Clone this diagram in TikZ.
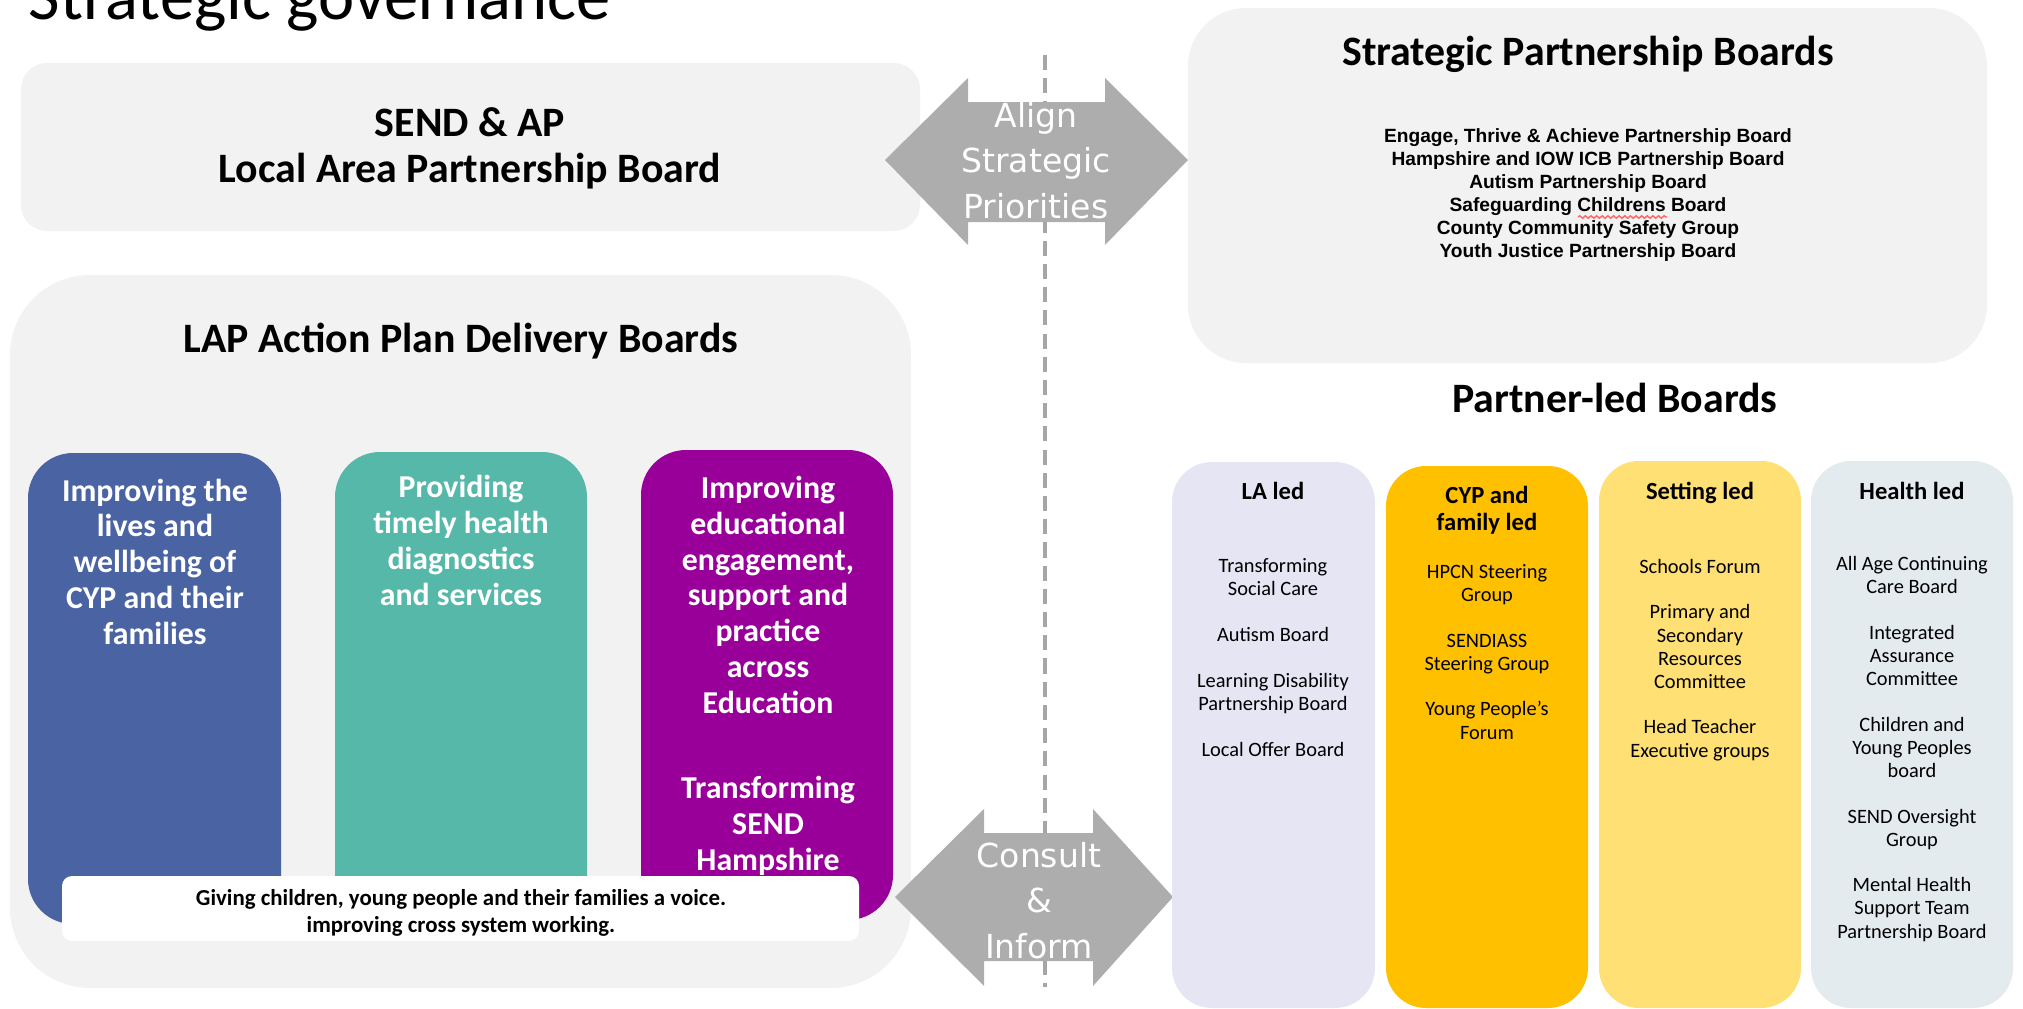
\documentclass[tikz,border=0pt]{standalone}
\usepackage{fontspec}
\setmainfont{Carlito}
\newfontfamily\dejavu{DejaVu Sans}
\newfontfamily\arialish{Liberation Sans}
\usepackage{xcolor}
\usetikzlibrary{positioning,calc,decorations.pathmorphing}

\definecolor{panelgrey}{HTML}{F2F2F2}
\definecolor{arrowgrey}{HTML}{ADADAD}
\definecolor{dashgrey}{HTML}{A6A6A6}
\definecolor{pillarblue}{HTML}{4A63A2}
\definecolor{pillarteal}{HTML}{55B8A8}
\definecolor{pillarpurple}{HTML}{990099}
\definecolor{laled}{HTML}{E6E5F4}
\definecolor{cypled}{HTML}{FFC000}
\definecolor{settingled}{HTML}{FFE074}
\definecolor{healthled}{HTML}{E4EBEE}

\newcommand{\headfont}{\fontsize{11.9}{12.8}\selectfont\bfseries}
\newcommand{\pillarfont}{\fontsize{9.05}{10.15}\selectfont\bfseries}
\newcommand{\itemfont}{\fontsize{5.8}{6.55}\selectfont}
\newcommand{\ledfont}{\fontsize{7}{7.4}\selectfont\bfseries}
\newcommand{\boardlistfont}{\arialish\fontsize{5.45}{6.5}\selectfont\bfseries}
\newcommand{\movefont}{\dejavu\fontsize{9.4}{12.8}\selectfont}
\newcommand{\voicefont}{\fontsize{6.5}{7.4}\selectfont\bfseries}

\begin{document}
\begin{tikzpicture}[x=0.01cm, y=-0.01cm,
    panel/.style={fill=panelgrey},
    txt/.style={inner sep=0pt, align=center, anchor=base},
    pillartext/.style={txt, text=white, font=\pillarfont},
    ledtitle/.style={txt, font=\ledfont},
    leditems/.style={txt, font=\itemfont},
    movetext/.style={txt, text=white, font=\movefont}]
    \clip (0,0) rectangle (2023,1009);

    % Title
    \node[anchor=base west, inner sep=0pt, font=\fontsize{19.5}{23}\selectfont] (title) at (28,20) {Strategic governance};

    % Local area partnership board (multi-line nodes sit on their last line)
    \fill[panel, rounded corners=0.26cm] (21,63) rectangle (920,231);
    \node[txt, font=\headfont] (lapboard) at (470,182) {SEND \& AP\\Local Area Partnership Board};

    % Delivery boards
    \fill[panel, rounded corners=0.8cm] (10,275) rectangle (911,988);
    \node[txt, font=\headfont] (delivery) at (461,352) {LAP Action Plan Delivery Boards};

    \fill[pillarblue, rounded corners=0.45cm] (28,453) rectangle (281,924);
    \fill[pillarteal, rounded corners=0.45cm] (335,452) rectangle (587,924);
    \fill[pillarpurple, rounded corners=0.45cm] (641,450) rectangle (893,920);
    \node[pillartext] (lives) at (155,644) {Improving the\\lives and\\wellbeing of\\CYP and their\\families};
    \node[pillartext] (health) at (461,605) {Providing\\timely health\\diagnostics\\and services};
    \node[pillartext] (education) at (768,713) {Improving\\educational\\engagement,\\support and\\practice\\across\\Education};
    \node[pillartext] (tsh) at (768,870) {Transforming\\SEND\\Hampshire};

    \fill[white, rounded corners=0.1cm] (62,876) rectangle (859,941);
    \node[txt, font=\voicefont] (voice) at (461,932) {Giving children, young people and their families a voice.\\improving cross system working.};

    % Divider
    \draw[dashgrey, line width=1.15pt, dash pattern=on 4.3pt off 2.3pt] (1045,55) -- (1045,987);

    % Block arrows
    \fill[arrowgrey] (885,160) -- (968,78) -- (968,102) -- (1105,102) -- (1105,78) -- (1188,160)
        -- (1105,245) -- (1105,222) -- (968,222) -- (968,245) -- cycle;
    \node[movetext] (align) at (1036,218) {Align\\Strategic\\Priorities};
    \fill[arrowgrey] (895,897) -- (984,809) -- (984,833) -- (1093,833) -- (1093,809) -- (1173,897)
        -- (1093,986) -- (1093,961) -- (984,961) -- (984,986) -- cycle;
    \node[movetext] (consult) at (1039,958) {Consult\\\&\\Inform};

    % Strategic partnership boards
    \fill[panel, rounded corners=0.58cm] (1188,8) rectangle (1987,363);
    \node[txt, font=\headfont] (strategic) at (1588,65) {Strategic Partnership Boards};
    \node[txt, font=\boardlistfont] (boardlist) at (1588,257) {Engage, Thrive \& Achieve Partnership Board\\Hampshire and IOW ICB Partnership Board\\Autism Partnership Board\\Safeguarding Childrens Board\\County Community Safety Group\\Youth Justice Partnership Board};
    \draw[red!60, decorate, decoration={snake, amplitude=0.35pt, segment length=1.6pt}] (1578,217) -- (1667,217);

    % Partner-led boards
    \node[txt, font=\headfont] (partner) at (1615,412) {Partner-led Boards};

    \fill[laled, rounded corners=0.4cm] (1172,462) rectangle (1375,1008);
    \fill[cypled, rounded corners=0.4cm] (1386,466) rectangle (1588,1008);
    \fill[settingled, rounded corners=0.4cm] (1599,461) rectangle (1801,1008);
    \fill[healthled, rounded corners=0.4cm] (1811,461) rectangle (2013,1008);

    \node[ledtitle] (la) at (1273,499) {LA led};
    \node[leditems] (laitems) at (1273,756) {Transforming\\Social Care\\[6.5pt]Autism Board\\[6.5pt]Learning Disability\\Partnership Board\\[6.5pt]Local Offer Board};

    \node[ledtitle] (cyp) at (1487,530) {CYP and\\family led};
    \node[leditems] (cypitems) at (1487,739) {HPCN Steering\\Group\\[6.5pt]SENDIASS\\Steering Group\\[6.5pt]Young People's\\Forum};

    \node[ledtitle] (setting) at (1700,499) {Setting led};
    \node[leditems] (settingitems) at (1700,757) {Schools Forum\\[6.5pt]Primary and\\Secondary\\Resources\\Committee\\[6.5pt]Head Teacher\\Executive groups};

    \node[ledtitle] (healthled) at (1912,499) {Health led};
    \node[leditems] (healthitems) at (1912,938) {All Age Continuing\\Care Board\\[6.5pt]Integrated\\Assurance\\Committee\\[6.5pt]Children and\\Young Peoples\\board\\[6.5pt]SEND Oversight\\Group\\[6.5pt]Mental Health\\Support Team\\Partnership Board};

\end{tikzpicture}
\end{document}
